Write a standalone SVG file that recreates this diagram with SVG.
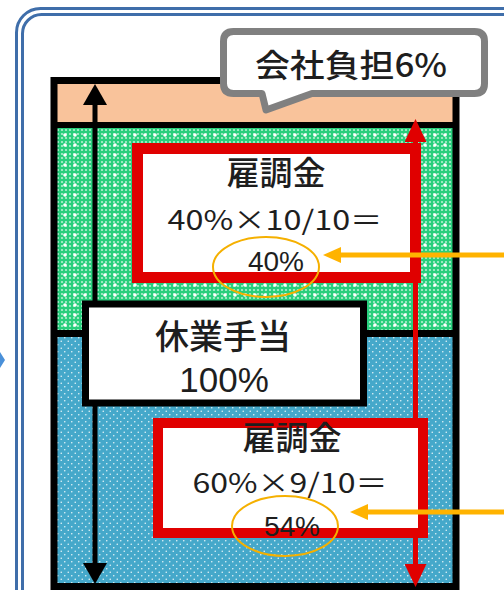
<svg xmlns="http://www.w3.org/2000/svg" width="504" height="590" viewBox="0 0 504 590">
<style>
.frame{fill:none;stroke:#3F6EAA;stroke-width:3}
.blk{fill:none;stroke:#000;stroke-width:7}
.lbl{fill:#fff;stroke:#000;stroke-width:7}
.red{fill:#fff;stroke:#E00000}
.oval{fill:none;stroke:#F5B000;stroke-width:2}
.t{font-family:"Noto Sans CJK JP","Liberation Sans",sans-serif;font-weight:500;fill:#1e1e1e;text-anchor:middle}
.t.r{font-weight:400}
.n{font-family:"Liberation Sans","Noto Sans CJK JP",sans-serif;fill:#1e1e1e;text-anchor:middle}
.c-black{fill:none;stroke:#000;stroke-width:5}
.c-red{fill:none;stroke:#E00000;stroke-width:5}
.c-or{fill:none;stroke:#FFB300;stroke-width:5}
</style>
<defs>
<pattern id="pg" width="4" height="4" patternUnits="userSpaceOnUse"><rect width="4" height="4" fill="#28CE7C"/><circle cx="2" cy="2" r="1.1" fill="#fff" opacity="0.65"/></pattern>
<pattern id="pg2" width="10" height="10" patternUnits="userSpaceOnUse"><circle cx="5" cy="5" r="1.8" fill="#fff"/></pattern>
<pattern id="pb" width="7" height="7" patternUnits="userSpaceOnUse"><rect width="7" height="7" fill="#45A8CA"/><circle cx="1.75" cy="1.75" r="0.8" fill="#fff" opacity="0.85"/><circle cx="5.25" cy="5.25" r="0.8" fill="#fff" opacity="0.85"/></pattern>
<marker id="mk-black" viewBox="0 0 21 24" refX="5" refY="12" markerWidth="21" markerHeight="24" markerUnits="userSpaceOnUse" orient="auto-start-reverse"><path d="M0,0 L21,12 L0,24 Z" fill="#000"/></marker>
<marker id="mk-red" viewBox="0 0 23 22" refX="6" refY="11" markerWidth="23" markerHeight="22" markerUnits="userSpaceOnUse" orient="auto-start-reverse"><path d="M0,0 L23,11 L0,22 Z" fill="#E00000"/></marker>
<marker id="mk-or" viewBox="0 0 18 16" refX="3" refY="8" markerWidth="18" markerHeight="16" markerUnits="userSpaceOnUse" orient="auto"><path d="M0,0 L18,8 L0,16 Z" fill="#FFB300"/></marker>
</defs>
<rect width="504" height="590" fill="#fff"/>
<g id="frame">
<rect class="frame" x="16.5" y="8.5" width="520" height="620" rx="24"/>
<rect class="frame" x="22.5" y="14.5" width="508" height="608" rx="19"/>
<path d="M0,352 L5,360 L0,368 Z" fill="#4A90D9"/>
</g>
<g id="main-box">
<rect x="54" y="80" width="402" height="45" fill="#F9C39B"/>
<rect x="54" y="125" width="402" height="207" fill="url(#pg)"/>
<rect x="54" y="125" width="402" height="207" fill="url(#pg2)"/>
<rect x="54" y="333" width="402" height="253" fill="url(#pb)"/>
<rect x="54" y="122" width="402" height="6" fill="#000"/>
<rect x="54" y="330" width="402" height="7" fill="#000"/>
<rect class="blk" x="54" y="80.5" width="402" height="506"/>
</g>
<g id="node-kyugyo">
<rect class="lbl" x="85.5" y="304" width="278" height="99"/>
<text class="t" x="223" y="349" font-size="34">休業手当</text>
<text class="n" x="224" y="392" font-size="35">100%</text>
</g>
<g id="node-koyo1">
<rect class="red" stroke-width="11" x="137.5" y="148.5" width="278" height="129"/>
<text class="t" x="276" y="185" font-size="33">雇調金</text>
<text class="t r" x="275" y="230" font-size="27" textLength="215" lengthAdjust="spacingAndGlyphs">40%×10/10＝</text>
<text class="n" x="276" y="271" font-size="28">40%</text>
<ellipse class="oval" cx="266" cy="267" rx="53" ry="30"/>
</g>
<g id="node-koyo2">
<rect class="red" stroke-width="10" x="158" y="423" width="265" height="110"/>
<text class="t" x="292" y="450" font-size="33">雇調金</text>
<text class="t r" x="290" y="493" font-size="27" textLength="195" lengthAdjust="spacingAndGlyphs">60%×9/10＝</text>
<text class="n" x="292" y="536" font-size="28">54%</text>
<ellipse class="oval" cx="285" cy="526" rx="53" ry="30"/>
</g>
<g id="node-callout">
<path d="M233.5,31.5 H474.5 Q484.5,31.5 484.5,41.5 V83.5 Q484.5,93.5 474.5,93.5 H312 L266,110 L262,93.5 H233.5 Q223.5,93.5 223.5,83.5 V41.5 Q223.5,31.5 233.5,31.5 Z" fill="#fff" stroke="#808080" stroke-width="7" stroke-linejoin="round"/>
<text class="t" x="351" y="77" font-size="32" textLength="192" lengthAdjust="spacingAndGlyphs">会社負担6%</text>
</g>
<g id="connectors">
<path class="c-black" d="M95,100 V304 M95,403 V568" marker-start="url(#mk-black)" marker-end="url(#mk-black)"/>
<path class="c-red" d="M415.5,136 V420 M415.5,536 V570" marker-start="url(#mk-red)" marker-end="url(#mk-red)"/>
<path class="c-or" d="M506,255 H338" marker-end="url(#mk-or)"/>
<path class="c-or" d="M506,512 H365" marker-end="url(#mk-or)"/>
</g>
</svg>
